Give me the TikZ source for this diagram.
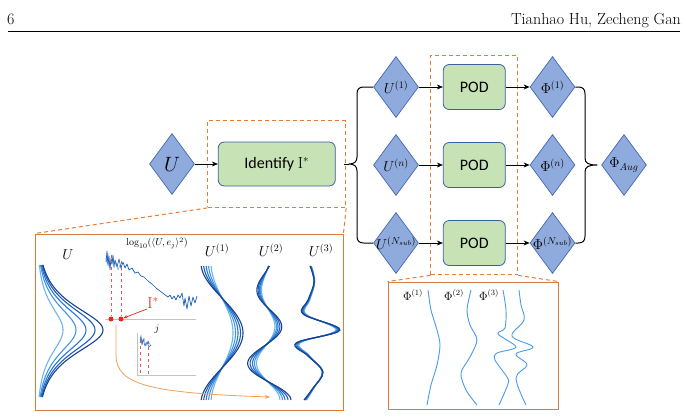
\documentclass[tikz,border=0pt]{standalone}
\usepackage{fontspec}
\setsansfont{Carlito}
\usepackage{tikz}
\usetikzlibrary{positioning, arrows.meta, shapes.geometric, fit}

\definecolor{diafill}{RGB}{143,170,220}
\definecolor{diaedge}{RGB}{68,104,178}
\definecolor{procfill}{RGB}{199,226,181}
\definecolor{procedge}{RGB}{60,95,160}
\definecolor{dashorange}{RGB}{230,125,55}
\definecolor{boxorange}{RGB}{218,125,60}
\definecolor{ublueA}{RGB}{25,65,145}
\definecolor{ublueB}{RGB}{30,95,185}
\definecolor{ublueC}{RGB}{40,120,210}
\definecolor{ublueD}{RGB}{65,150,230}
\definecolor{ublueE}{RGB}{110,180,240}
\definecolor{phiblue}{RGB}{75,155,230}
\definecolor{specred}{RGB}{235,40,30}
\definecolor{zoomline}{RGB}{240,160,90}
\definecolor{axisgray}{RGB}{195,195,195}

% label kept out of the diamond size
\newcommand{\diatext}[1]{\makebox[0pt]{#1}}

\tikzset{
  % running head text
  head/.style={inner sep=0pt, font=\fontsize{16}{18}\selectfont},
  % blue diamonds (U, U^(i), Phi^(i))
  dia/.style={
    diamond, draw=diaedge, fill=diafill, line width=0.7pt,
    minimum width=45pt, minimum height=61pt, inner sep=0pt,
    font=\fontsize{14}{16}\selectfont
  },
  % green process boxes
  proc/.style={
    rectangle, rounded corners=6pt, draw=procedge, fill=procfill,
    line width=0.8pt, inner sep=0pt, font=\sffamily\fontsize{16}{18}\selectfont
  },
  pod/.style={proc, minimum width=62pt, minimum height=45pt},
  % dashed orange frame / zoom lines
  dframe/.style={
    draw=dashorange, dash pattern=on 4pt off 3pt, line width=1pt, inner sep=0pt
  },
  % solid orange zoom box
  zoombox/.style={rectangle, draw=boxorange, line width=0.9pt, inner sep=0pt},
  % arrows between blocks
  flow/.style={-{Stealth[length=6pt, width=5pt]}, line width=0.7pt},
  % curly braces
  brace/.style={line width=1pt, line join=round},
  % mode curves
  wave/.style={line width=1.1pt},
  phiwave/.style={phiblue, line width=0.9pt},
  % labels inside the zoom boxes
  flabel/.style={inner sep=0pt, font=\fontsize{14}{16}\selectfont},
  plabel/.style={inner sep=0pt, font=\fontsize{12}{14}\selectfont},
  % spectrum sketch
  spec/.style={ublueB, line width=0.7pt, line join=round},
  speclight/.style={ublueE, line width=0.6pt, line join=round},
  cutline/.style={specred!80!white, dashed, line width=0.6pt},
  dot/.style={circle, fill=specred, inner sep=0pt, minimum size=5pt}
}

\begin{document}
\begin{tikzpicture}[x=1pt, y=-1pt]
\useasboundingbox (0,0) rectangle (686,418);

% ============================================================
% Running head
% ============================================================
\node[head, anchor=base west] (pageno) at (7,24) {6};
\node[head, anchor=base east] (runhead) at (681,24) {Tianhao Hu, Zecheng Gan};
\coordinate (rulel) at (8,31);
\coordinate (ruler) at (680,31);
\draw[line width=0.8pt] (rulel) -- (ruler);

% ============================================================
% Main flow: U -> Identify I*
% ============================================================
\node[dia, font=\fontsize{20}{22}\selectfont] (u) at (172,164) {\diatext{$U$}};
\node[proc, minimum width=117pt, minimum height=44pt, right=23pt of u] (ident) {Identify $\mathrm{I}^{*}$};
\node[dframe, fit=(ident), inner xsep=10pt, inner ysep=21pt] (idframe) {};

% sub-domain snapshots
\node[dia] (u1) at (396,87)  {\diatext{$U^{(1)}$}};
\node[dia] (un) at (396,165) {\diatext{$U^{(n)}$}};
\node[dia] (us) at (396,243) {\diatext{$U^{(N_{sub})}$}};

% POD blocks
\node[pod, right=24pt of u1] (pod1) {POD};
\node[pod, right=24pt of un] (podn) {POD};
\node[pod, right=24pt of us] (pods) {POD};
\node[dframe, fit=(pod1)(pods), inner xsep=12pt, inner ysep=9pt] (podframe) {};

% local bases
\node[dia, right=24pt of pod1] (phi1) {\diatext{$\Phi^{(1)}$}};
\node[dia, right=24pt of podn] (phin) {\diatext{$\Phi^{(n)}$}};
\node[dia, right=24pt of pods] (phis) {\diatext{$\Phi^{(N_{sub})}$}};

% augmented basis
\node[dia] (phiaug) at (624,165) {\diatext{$\Phi_{Aug}$}};

% ============================================================
% Arrows and braces
% ============================================================
\draw[flow] (u) -- (ident);
\foreach \i in {1,n,s} {
  \draw[flow] (u\i) -- (pod\i);
  \draw[flow] (pod\i) -- (phi\i);
}

\coordinate (ltip) at (349,164);
\coordinate (rtip) at (597,165);
\draw[brace, shorten <=8pt] (ident.east) -- (ltip);
\draw[brace] (u1.west) -- (364,87) .. controls (359,87) and (357,89) .. (357,94)
  -- (357,157) .. controls (357,162) and (354,164) .. (ltip)
  .. controls (354,164) and (357,166) .. (357,171)
  -- (357,236) .. controls (357,241) and (359,243) .. (364,243) -- (us.west);
\draw[brace] (phi1.east) -- (578,87) .. controls (583,87) and (585,89) .. (585,94)
  -- (585,158) .. controls (585,163) and (588,165) .. (rtip)
  .. controls (588,165) and (585,167) .. (585,172)
  -- (585,236) .. controls (585,241) and (583,243) .. (578,243) -- (phis.east);

% ============================================================
% Zoom boxes
% ============================================================
\node[zoombox, minimum width=308pt, minimum height=176pt] (zoomL) at (189,322) {};
\node[zoombox, minimum width=170pt, minimum height=127pt] (zoomR) at (473,345.5) {};
\draw[dframe] (idframe.south west) -- (zoomL.north west);
\draw[dframe] (idframe.south east) -- (zoomL.north east);
\draw[dframe] (podframe.south west) -- (zoomR.north west);
\draw[dframe] (podframe.south east) -- (zoomR.north east);

% ---- left zoom: snapshots, spectrum, sub-domain snapshots ----
\node[flabel] (ulab)  at (68,255)  {$U$};
\node[flabel] (u1lab) at (217,250) {$U^{(1)}$};
\node[flabel] (u2lab) at (271,250) {$U^{(2)}$};
\node[flabel] (u3lab) at (321,250) {$U^{(3)}$};
\node[inner sep=0pt, font=\fontsize{10}{12}\selectfont] (loglab) at (157,243) {$\log_{10}(\langle U,e_j\rangle^2)$};

\foreach \A/\col in {26/ublueE, 39/ublueD, 49/ublueC, 58/ublueB, 66/ublueA}
  \draw[wave, \col] plot[domain=265:397, samples=80, variable=\t, smooth]
    ({37+2*\A/(exp((\t-330)/21)+exp((330-\t)/21))}, \t);

\foreach \A/\col in {11/ublueE, 13.5/ublueD, 16/ublueC, 18.5/ublueB, 21/ublueA}
  \draw[wave, \col] plot[domain=266:400, samples=60, variable=\t, smooth]
    ({222+\A*sin((\t-298)/140*360)}, \t);

\foreach \A/\col in {13/ublueE, 15.5/ublueD, 18/ublueC, 21/ublueB, 24/ublueA}
  \draw[wave, \col] plot[domain=266:400, samples=80, variable=\t, smooth]
    ({267+\A*(0.3+0.7*(\t-266)/134)*sin((\t-307)/74*360)}, \t);

\foreach \s/\col in {0.82/ublueE, 0.87/ublueD, 0.91/ublueC, 0.96/ublueB, 1/ublueA}
  \draw[wave, \col] plot[smooth, tension=0.6] coordinates {
    ({318-8*\s},266) ({318-4*\s},282) ({318-10*\s},300) ({318-15*\s},314)
    ({318+22*\s},330) ({318-22*\s},343) ({318-10*\s},356) ({318+5*\s},372)
    ({318-5*\s},388) ({318-14*\s},400)};

% spectrum
\draw[axisgray, line width=0.6pt] (105,319) -- (196,319);
\draw[speclight] (106,258) -- (107,263) -- (108,254) -- (110,267) -- (112,259)
  -- (114,268) -- (116,262) -- (118,270) -- (120,265) -- (122,271);
\draw[spec] (106,262) -- (107,251) -- (108,266) -- (109,256) -- (110,270) -- (111,258)
  -- (112,264) -- (113,255) -- (114,266) -- (115,260) -- (117,267) -- (119,259)
  -- (121,268) -- (123,262) -- (125,268) -- (127,264) -- (129,270) -- (132,268)
  -- (135,273) -- (138,272) -- (141,276) -- (144,277) -- (148,281) -- (152,284)
  -- (156,288) -- (160,291) -- (164,294) -- (168,297) -- (170,295) -- (172,299)
  -- (174,296) -- (176,300) -- (178,295) -- (180,298) -- (182,293) -- (184,306)
  -- (185,298) -- (187,309) -- (189,296) -- (191,306) -- (193,297) -- (195,303)
  -- (197,296);
\node[dot] (d1) at (111,319) {};
\node[dot] (d2) at (121,319) {};
\coordinate (m1) at (111,255);
\coordinate (m2) at (121,261);
\draw[cutline] (m1) -- (d1);
\draw[cutline] (m2) -- (d2);
\node[inner sep=0pt, font=\fontsize{10}{12}\selectfont] (jlab) at (157,329) {$j$};
\node[inner sep=0pt, text=specred, font=\fontsize{16}{18}\selectfont] (istar) at (153,303) {$\mathrm{I}^{*}$};
\draw[specred, -{Stealth[length=4pt, width=3.5pt]}, line width=0.7pt] (istar.south west) -- (d2);

% small inset spectrum
\draw[axisgray, line width=0.5pt] (137,333) -- (137,375) -- (196,375);
\draw[speclight] (140,340) -- (141,335) -- (142,344) -- (144,338) -- (146,346) -- (148,341) -- (151,346);
\draw[spec, line width=0.5pt] (140,343) -- (141,337) -- (142,345) -- (143,339) -- (145,346) -- (147,342) -- (149,347) -- (151,345);
\draw[cutline, line width=0.4pt] (140,340) -- (140,375);
\draw[cutline, line width=0.4pt] (148,341) -- (148,375);

% selected modes go to the sub-domains
\coordinate (zstart) at (116,325);
\coordinate (zend) at (270,397);
\draw[zoomline, line width=0.8pt, -{Stealth[length=5pt, width=4pt]}] (zstart) -- (116,355)
  .. controls (116,385) and (150,393) .. (zend);

% ---- right zoom: local POD modes ----
\node[plabel] (p1lab) at (413,295) {$\Phi^{(1)}$};
\node[plabel] (p2lab) at (454,295) {$\Phi^{(2)}$};
\node[plabel] (p3lab) at (489,295) {$\Phi^{(3)}$};
\draw[phiwave] plot[smooth] coordinates {(428,290) (431,310) (437,330) (440,345) (437,365) (431,385) (427,405)};
\draw[phiwave] plot[smooth] coordinates {(471,290) (467,310) (470,325) (477,340) (470,357) (461,373) (466,390) (477,405)};
\draw[phiwave] plot[smooth] coordinates {(503,290) (506,310) (505,328) (498,334) (516,347) (497,353) (495,360) (507,377) (508,384) (499,405)};
\draw[phiwave] plot[smooth, tension=0.6] coordinates {(519,290) (521,305) (524,320) (512,336) (533,347) (516,354) (527,365) (516,378) (526,405)};

\end{tikzpicture}
\end{document}
